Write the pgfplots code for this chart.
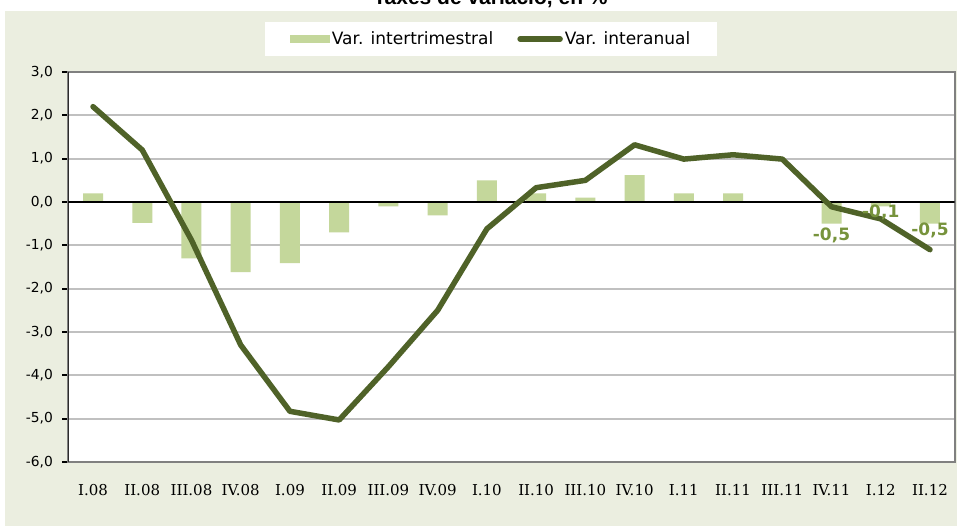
\documentclass[border=0pt]{standalone}
\usepackage{fontspec}
\setmainfont{DejaVu Sans}
\newfontfamily\xfont{DejaVu Serif}
\newfontfamily\tfont{Liberation Sans}
\usepackage{pgfplots}
\pgfplotsset{compat=1.18}
\definecolor{bg}{RGB}{235,238,224}
\definecolor{barg}{RGB}{196,215,155}
\definecolor{lineg}{RGB}{79,98,40}
\definecolor{labg}{RGB}{119,147,60}
\definecolor{gridg}{RGB}{192,192,192}
\definecolor{borderg}{RGB}{128,128,128}
\begin{document}
\begin{tikzpicture}[x=1pt,y=1pt]
\useasboundingbox (0,0) rectangle (957,527);
\clip (0,0) rectangle (957,527);
\fill[white] (0,0) rectangle (957,527);
\fill[bg] (5,1) rectangle (957,516);
\node[font=\tfont\bfseries\fontsize{21}{24}\selectfont, anchor=base] at (490.5,522) {Taxes de variació, en \%};
\begin{axis}[
  at={(68.4pt,65pt)}, anchor=south west,
  width=886.2pt, height=390pt, scale only axis,
  xmin=-0.5, xmax=17.5, ymin=-6, ymax=3,
  axis background/.style={fill=white},
  xtick={0,...,17},
  xticklabels={I.08,II.08,III.08,IV.08,I.09,II.09,III.09,IV.09,I.10,II.10,III.10,IV.10,I.11,II.11,III.11,IV.11,I.12,II.12},
  xticklabel style={font=\xfont\fontsize{15}{17}\selectfont, yshift=-13pt},
  x tick style={draw=none},
  xtick pos=bottom, ytick pos=left,
  ytick={-6,-5,...,3},
  yticklabel={\pgfmathprintnumber[fixed,fixed zerofill,precision=1,use comma,assume math mode=true]{\tick}},
  yticklabel style={font=\fontsize{13.8}{16}\selectfont, xshift=-6pt},
  y tick style={black, line width=2pt},
  tick align=outside, major tick length=6pt,
  ymajorgrids, grid style={gridg, line width=2pt},
  axis line style={borderg, line width=2pt},
  legend columns=2,
  legend style={at={(0.477,1.0846)}, anchor=center, draw=none, fill=white,
    font=\fontsize{17}{20}\selectfont, inner xsep=25pt, inner ysep=8pt,
    /tikz/every even column/.append style={column sep=22pt}},
]
\addplot[ybar, bar width=20pt, fill=barg, draw=none,
  legend image code/.code={\fill[barg] (0pt,-4pt) rectangle (40pt,4pt);}]
  coordinates {(0,0.2) (1,-0.48) (2,-1.3) (3,-1.62) (4,-1.41) (5,-0.7) (6,-0.1) (7,-0.31)
  (8,0.5) (9,0.2) (10,0.1) (11,0.62) (12,0.2) (13,0.2) (14,0.0) (15,-0.5) (16,-0.1) (17,-0.5)};
\addlegendentry{Var. intertrimestral}
\draw[black, line width=2pt] (axis cs:-0.5,0) -- (axis cs:17.5,0);
\draw[black, line width=2pt] (rel axis cs:0,0) -- (rel axis cs:0,1);
\addplot[lineg, line width=5.5pt, line cap=round, line join=round, mark=none, sharp plot,
  legend image code/.code={\draw[lineg, line width=5.5pt, line cap=round] (2pt,0pt) -- (42pt,0pt);}]
  coordinates {(0,2.2) (1,1.2) (2,-0.88) (3,-3.3) (4,-4.83) (5,-5.03) (6,-3.8) (7,-2.5)
  (8,-0.62) (9,0.33) (10,0.5) (11,1.32) (12,0.99) (13,1.09) (14,0.99) (15,-0.11) (16,-0.39) (17,-1.1)};
\addlegendentry{Var. interanual}
\node[font=\bfseries\fontsize{17}{20}\selectfont, text=labg] at (axis cs:15,-0.76) {-0,5};
\node[font=\bfseries\fontsize{17}{20}\selectfont, text=labg] at (axis cs:16,-0.23) {-0,1};
\node[font=\bfseries\fontsize{17}{20}\selectfont, text=labg] at (axis cs:17,-0.65) {-0,5};
\end{axis}
\end{tikzpicture}
\end{document}
